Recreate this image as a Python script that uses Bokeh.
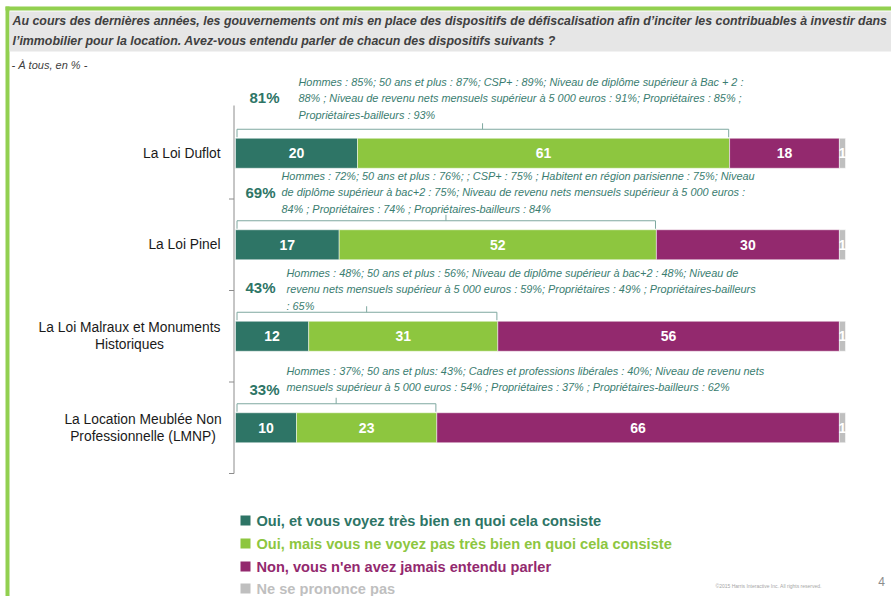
import numpy as np
from bokeh.plotting import figure
from bokeh.models import Range1d, ColumnDataSource
from bokeh.core.properties import value
from bokeh.embed import file_html
from bokeh.resources import INLINE

# ---------------- data ----------------
categories = ["La Loi Duflot", "La Loi Pinel",
              "La Loi Malraux et Monuments\nHistoriques",
              "La Location Meublée Non\nProfessionnelle (LMNP)"]
oui_bien = [20, 17, 12, 10]
oui_pas_bien = [61, 52, 31, 23]
non = [18, 30, 56, 66]
nsp = [1, 1, 1, 1]
series_names = ["Oui, et vous voyez très bien en quoi cela consiste",
                "Oui, mais vous ne voyez pas très bien en quoi cela consiste",
                "Non, vous n'en avez jamais entendu parler",
                "Ne se prononce pas"]
details = [
    ["Hommes : 85%; 50 ans et plus : 87%; CSP+ : 89%; Niveau de diplôme supérieur à Bac + 2 :",
     "88% ; Niveau de revenu nets mensuels supérieur à 5 000 euros : 91%; Propriétaires : 85% ;",
     "Propriétaires-bailleurs : 93%"],
    ["Hommes : 72%; 50 ans et plus : 76%; ; CSP+ : 75% ; Habitent en région parisienne : 75%; Niveau",
     "de diplôme supérieur à bac+2 : 75%; Niveau de revenu nets mensuels supérieur à 5 000 euros :",
     "84% ; Propriétaires : 74% ; Propriétaires-bailleurs : 84%"],
    ["Hommes : 48%; 50 ans et plus : 56%; Niveau de diplôme supérieur à bac+2 : 48%; Niveau de",
     "revenu nets mensuels supérieur à 5 000 euros : 59%; Propriétaires : 49% ;  Propriétaires-bailleurs",
     ": 65%"],
    ["Hommes : 37%; 50 ans et plus: 43%; Cadres et professions libérales : 40%; Niveau de revenu nets",
     "mensuels supérieur à 5 000 euros : 54% ; Propriétaires : 37% ; Propriétaires-bailleurs : 62%"],
]
title_lines = ["Au cours des dernières années, les gouvernements ont mis en place des dispositifs de défiscalisation afin d\u2019inciter les contribuables à investir dans",
               "l\u2019immobilier pour la location. Avez-vous entendu parler de chacun des dispositifs suivants ?"]
subtitle = "- À tous, en % -"

# ---------------- style / layout ----------------
colors = ["#2E7566", "#8DC63F", "#93296E", "#BFBFBF"]
legend_text_colors = ["#2E7566", "#8DC63F", "#93296E", "#BFBFBF"]
FONT = "Liberation Sans"
W, H = 891, 596
X0, PXX = 235.0, 6.1        # page x of value 0, px per percent
Y0, PXY = 107.0, 91.5       # page y of first category top, px per category
def X(px): return (px - X0) / PXX
def Y(py): return (py - Y0) / PXY
detail_top = [81, 175, 272, 370]
detail_left = [298, 281, 286, 286]
pct_pos = [(264, 97), (260, 192), (260, 287), (264, 389)]
label_center = [None, None, 129, 142.5]

p = figure(width=W, height=H, x_range=Range1d(X(0), X(W)), y_range=Range1d(Y(H), Y(0)),
           output_backend="svg", toolbar_location=None, min_border=0,
           x_axis_location=None, y_axis_location=None)
p.grid.visible = False
p.outline_line_color = None
p.background_fill_color = "white"

# frame and header
p.quad(left=[X(5)], right=[X(9)], top=[Y(6)], bottom=[Y(H)], color="#92D050", line_color=None)
p.quad(left=[X(5)], right=[X(W)], top=[Y(6)], bottom=[Y(10)], color="#92D050", line_color=None)
p.quad(left=[X(9)], right=[X(W)], top=[Y(11)], bottom=[Y(51)], color="#E6E6E6", line_color=None)
p.text(x=[X(12)] * 2, y=[Y(20), Y(40)], text=title_lines, text_font=value(FONT),
       text_font_style="bold italic", text_font_size="12.4px", text_color="#404040",
       text_baseline="middle", text_align="left")
p.text(x=[X(11)], y=[Y(64)], text=[subtitle], text_font=value(FONT), text_font_style="italic",
       text_font_size="11px", text_color="#404040", text_baseline="middle")

# stacked bars
n = len(categories)
yc = np.arange(n) + 0.5
vals = np.array([oui_bien, oui_pas_bien, non, nsp], dtype=float)
rights = np.cumsum(vals, axis=0)
lefts = rights - vals
bar_h = 30 / PXY
for k in range(4):
    src = ColumnDataSource(dict(y=yc, left=lefts[k], right=rights[k],
                                mid=(lefts[k] + rights[k]) / 2, lab=[str(int(v)) for v in vals[k]]))
    p.hbar(y="y", left="left", right="right", height=bar_h, source=src,
           fill_color=colors[k], line_color="white", line_width=0.5)
    p.text(x="mid", y="y", text="lab", source=src, text_font=value(FONT), text_font_style="bold",
           text_font_size="14px", text_color="white", text_align="center", text_baseline="middle")

# axis line with ticks between categories
p.segment(x0=[X(233.5)], x1=[X(233.5)], y0=[Y(105)], y1=[n], line_color="#8C8C8C", line_width=1)
p.segment(x0=[X(228.5)] * n, x1=[X(233.5)] * n, y0=list(range(1, n + 1)), y1=list(range(1, n + 1)),
          line_color="#8C8C8C", line_width=1)

# category labels
for i, c in enumerate(categories):
    lines = c.split("\n")
    m = len(lines)
    cy = Y0 + (i + 0.5) * PXY
    ys = [Y(cy + (j - (m - 1) / 2) * 17) for j in range(m)]
    if label_center[i] is None:
        xs, align = X(220), "right"
    else:
        xs, align = X(label_center[i]), "center"
    p.text(x=[xs] * m, y=ys, text=lines, text_font=value(FONT), text_font_size="13.8px",
           text_color="#1A1A1A", text_align=align, text_baseline="middle")

# brackets spanning the "oui" total
totals = vals[0] + vals[1]
bt = yc - bar_h / 2
off = 9 / PXY
notch = 6 / PXY
bx0 = np.full(n, X(236.5))
bcol = "#7FA8A0"
p.segment(x0=bx0, x1=totals - 0.15, y0=bt - off, y1=bt - off, line_color=bcol, line_width=1)
p.segment(x0=bx0, x1=bx0, y0=bt - off, y1=bt - 1 / PXY, line_color=bcol, line_width=1)
p.segment(x0=totals - 0.15, x1=totals - 0.15, y0=bt - off, y1=bt - 1 / PXY, line_color=bcol, line_width=1)
p.segment(x0=totals / 2, x1=totals / 2, y0=bt - off, y1=bt - off - notch, line_color=bcol, line_width=1)

# total percentages and detail texts
for i in range(n):
    px, py = pct_pos[i]
    p.text(x=[X(px)], y=[Y(py)], text=[f"{int(totals[i])}%"], text_font=value(FONT),
           text_font_style="bold", text_font_size="15px", text_color="#2E7566",
           text_align="center", text_baseline="middle")
    lines = details[i]
    p.text(x=[X(detail_left[i])] * len(lines), y=[Y(detail_top[i] + 16.7 * j) for j in range(len(lines))],
           text=lines, text_font=value(FONT), text_font_style="italic", text_font_size="10.9px",
           text_color="#3A7D70", text_align="left", text_baseline="middle")

# legend
leg_y = [520, 543, 566, 588]
p.scatter(x=[X(245)] * 4, y=[Y(v) for v in leg_y], marker="square", size=10,
          fill_color=colors, line_color=None)
p.text(x=[X(256)] * 4, y=[Y(v) for v in leg_y], text=series_names, text_font=value(FONT),
       text_font_style="bold", text_font_size="14.6px", text_color=legend_text_colors,
       text_baseline="middle", text_align="left")

# footer
p.text(x=[X(715)], y=[Y(585)], text=["©2015 Harris Interactive Inc. All rights reserved."],
       text_font=value(FONT), text_font_size="5px", text_color="#A6A6A6", text_baseline="middle")
p.text(x=[X(881)], y=[Y(581)], text=["4"], text_font=value(FONT), text_font_size="12px",
       text_color="#8C8C8C", text_baseline="middle", text_align="center")

open("out.html", "w").write(file_html(p, INLINE))
